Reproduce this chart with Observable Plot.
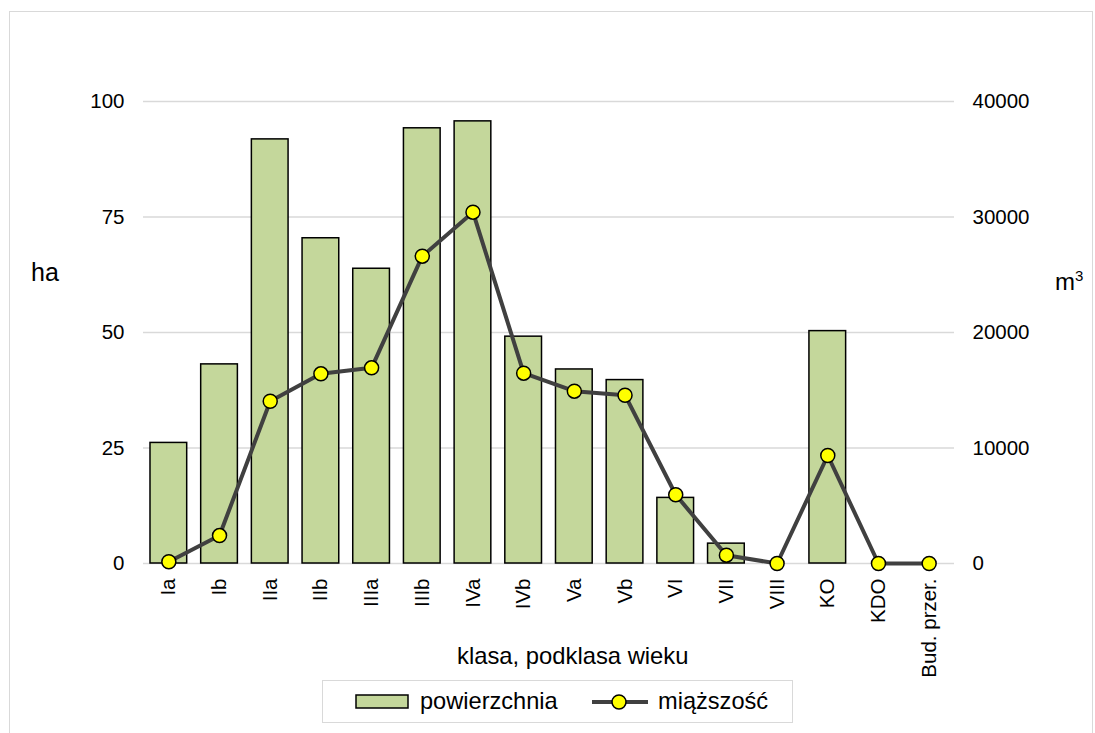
<!DOCTYPE html>
<html>
<head>
<meta charset="utf-8">
<script src="https://cdn.jsdelivr.net/npm/d3@7"></script>
<script src="https://cdn.jsdelivr.net/npm/@observablehq/plot@0.6"></script>
<style>
  body { margin: 0; background: #fff; font-family: "Liberation Sans", Arial, sans-serif; }
  #wrap { position: relative; width: 1095px; height: 733px; overflow: hidden; }
  #frame { position: absolute; left: 9px; top: 11px; width: 1084px; height: 740px; border: 1px solid #d9d9d9; box-sizing: border-box; }
  #chart { position: absolute; left: 0; top: 0; }
  .lbl { position: absolute; line-height: 1; color: #000; white-space: nowrap; }
  #legend { position: absolute; left: 322px; top: 680px; width: 471px; height: 43px; border: 1px solid #d9d9d9; box-sizing: border-box; }
</style>
</head>
<body>
<div id="wrap">
  <div id="frame"></div>
  <div id="chart"></div>
  <div class="lbl" style="left:31px; top:260px; font-size:25px;">ha</div>
  <div class="lbl" style="left:1055px; top:270px; font-size:24px;">m<span style="font-size:15px; position:relative; top:-9px;">3</span></div>
  <div class="lbl" style="left:457px; top:644px; font-size:23.8px;">klasa, podklasa wieku</div>
  <div id="legend">
    <svg width="54" height="16" style="position:absolute; left:32px; top:13px;"><rect x="1" y="1" width="52" height="13" fill="#c4d79b" stroke="#000" stroke-width="1.5"/></svg>
    <div class="lbl" style="left:97px; top:9px; font-size:23.6px;">powierzchnia</div>
    <svg width="56" height="20" style="position:absolute; left:269px; top:11px;"><line x1="0" y1="10" x2="56" y2="10" stroke="#404040" stroke-width="4"/><circle cx="27" cy="10" r="7" fill="#ffff00" stroke="#000" stroke-width="1.5"/></svg>
    <div class="lbl" style="left:335px; top:9px; font-size:23.6px;">miąższość</div>
  </div>
</div>
<script>
const categories = ["Ia","Ib","IIa","IIb","IIIa","IIIb","IVa","IVb","Va","Vb","VI","VII","VIII","KO","KDO","Bud. przer."];
const area = [26.1,43.1,91.8,70.4,63.8,94.2,95.7,49.1,42.0,39.7,14.2,4.3,0,50.3,0,0];
const volume = [150,2420,14050,16420,16940,26610,30420,16480,14920,14570,5950,720,0,9350,0,0];
const leftTicks = [0,25,50,75,100];
const rightTicks = [0,10000,20000,30000,40000];
const ratio = 400; // m3 per ha-unit on the shared scale

const data = categories.map((c, i) => ({cat: c, area: area[i], vol: volume[i], volS: volume[i] / ratio}));

const plot = Plot.plot({
  width: 1095,
  height: 700,
  marginTop: 101,
  marginBottom: 137,
  marginLeft: 143,
  marginRight: 141,
  style: {fontFamily: "'Liberation Sans', Arial, sans-serif", fontSize: "20.5px", color: "#000", overflow: "visible"},
  x: {domain: categories, paddingInner: 0.276, paddingOuter: 0.138, round: false, label: null},
  y: {domain: [0, 100], label: null},
  marks: [
    Plot.ruleY(leftTicks, {stroke: "#d9d9d9", strokeWidth: 1.5}),
    Plot.barY(data, {x: "cat", y: "area", fill: "#c4d79b", stroke: "#000", strokeWidth: 1.5}),
    Plot.line(data, {x: "cat", y: "volS", stroke: "#404040", strokeWidth: 4}),
    Plot.dot(data, {x: "cat", y: "volS", r: 7, fill: "#ffff00", stroke: "#000", strokeWidth: 1.5}),
    Plot.axisY(leftTicks, {anchor: "left", tickSize: 0, tickPadding: 19, label: null, fill: "#000"}),
    Plot.axisY(rightTicks.map(v => v / ratio), {anchor: "right", tickSize: 0, tickPadding: 18, label: null, tickFormat: d => String(Math.round(d * ratio)), fill: "#000"}),
    Plot.axisX({tickSize: 0, tickPadding: 15, tickRotate: -90, label: null, fill: "#000"})
  ]
});
document.getElementById("chart").appendChild(plot);
</script>
</body>
</html>
